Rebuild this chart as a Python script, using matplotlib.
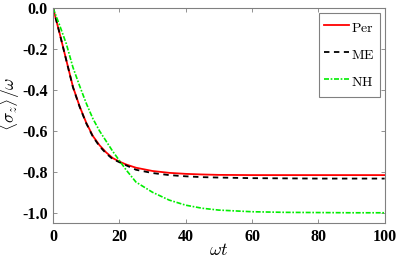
import matplotlib
matplotlib.use("Agg")
import matplotlib.pyplot as plt

# values
t = [0, 2, 4, 6, 8, 10, 12, 14, 16, 18, 20, 22, 25, 30, 35, 40, 45, 50, 60, 70, 80, 90, 100]
per = [0, -0.125, -0.255, -0.385, -0.48, -0.56, -0.625, -0.67, -0.705, -0.733, -0.75, -0.764,
       -0.78, -0.796, -0.805, -0.81, -0.813, -0.815, -0.816, -0.816, -0.816, -0.816, -0.816]
me = [0, -0.125, -0.256, -0.387, -0.482, -0.563, -0.628, -0.675, -0.71, -0.738, -0.753, -0.768,
      -0.79, -0.806, -0.816, -0.822, -0.826, -0.828, -0.831, -0.832, -0.833, -0.833, -0.833]
nh = [0, -0.085, -0.175, -0.29, -0.38, -0.465, -0.54, -0.6, -0.65, -0.7, -0.745, -0.79,
      -0.85, -0.9, -0.938, -0.963, -0.978, -0.987, -0.995, -0.998, -0.999, -1.0, -1.0]
labels = [r'$\mathrm{Per}$', r'$\mathrm{ME}$', r'$\mathrm{NH}$']
xticks = [0, 20, 40, 60, 80, 100]
yticks = [0, -0.2, -0.4, -0.6, -0.8, -1.0]

plt.rcParams['font.family'] = 'Liberation Serif'
plt.rcParams['mathtext.fontset'] = 'cm'

fig = plt.figure(figsize=(3.99, 2.59), dpi=100)
ax = fig.add_axes([0.133, 0.139, 0.831, 0.830])

ax.plot(t, per, color='#ff0000', lw=1.3, label=labels[0])
ax.plot(t, me, color='black', lw=1.3, ls=(0, (3, 2.5)), label=labels[1])
ax.plot(t, nh, color='#00ee00', lw=1.2, ls=(0, (3, 1, 1, 1)), label=labels[2])

ax.set_xlim(0, 100)
ax.set_ylim(-1.05, 0)
ax.set_xticks(xticks)
ax.set_xticklabels([str(v) for v in xticks], fontweight='bold', fontsize=11.5)
ax.set_yticks(yticks)
ax.set_yticklabels(['%.1f' % v if v != 0 else '0.0' for v in yticks], fontweight='bold', fontsize=11.5)
ax.tick_params(direction='in', top=True, right=True, length=3, width=0.6, color='#808080', pad=4)
for s in ax.spines.values():
    s.set_color('#808080')
    s.set_linewidth(0.8)

ax.set_xlabel(r'$\omega t$', fontsize=13)
ax.xaxis.set_label_coords(0.5, -0.09)
ax.set_ylabel(r'$\langle\sigma_z\rangle/\omega$', fontsize=12.5)
ax.yaxis.set_label_coords(-0.094, 0.553)

leg = ax.legend(loc='upper right', bbox_to_anchor=(0.986, 0.978), borderaxespad=0, fontsize=10,
                handlelength=1.75, handleheight=1.7, handletextpad=0.15, labelspacing=0.6,
                borderpad=0.4, fancybox=False, edgecolor='#808080', framealpha=1)
leg.get_frame().set_linewidth(0.8)

fig.savefig('out.png', dpi=100)
